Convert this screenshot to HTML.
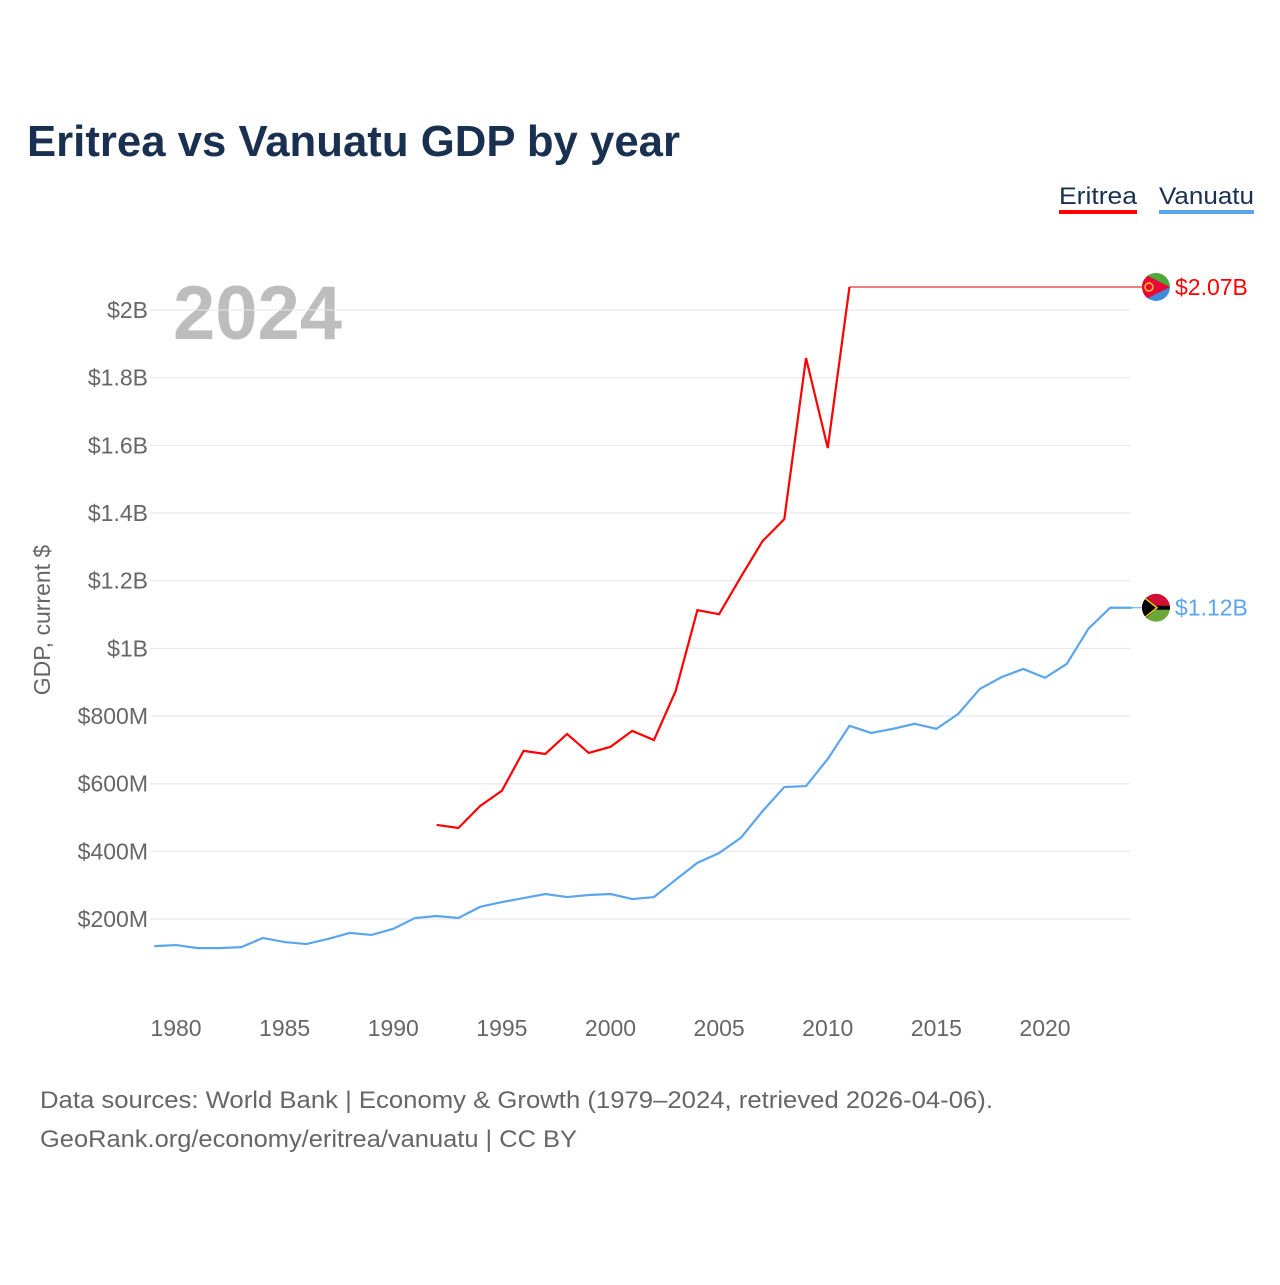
<!DOCTYPE html>
<html><head><meta charset="utf-8"><style>
body{margin:0;background:#fff;font-family:"Liberation Sans",sans-serif}
svg text{font-family:"Liberation Sans",sans-serif}
</style></head><body>
<svg id="chart" width="1280" height="1280">
<text x="27" y="156" font-size="44" font-weight="bold" fill="#1a3050" textLength="653" lengthAdjust="spacingAndGlyphs">Eritrea vs Vanuatu GDP by year</text>
<g>
<text x="1059" y="204" font-size="24" fill="#1a3050" textLength="78" lengthAdjust="spacingAndGlyphs">Eritrea</text>
<rect x="1059" y="210" width="78" height="4" fill="#ff0000"/>
<text x="1159" y="204" font-size="24" fill="#1a3050" textLength="95" lengthAdjust="spacingAndGlyphs">Vanuatu</text>
<rect x="1159" y="210" width="95" height="4" fill="#5aa5ec"/>
</g>
<text x="173" y="339" font-size="76" font-weight="bold" fill="#bdbdbd">2024</text>
<text transform="translate(50,620) rotate(-90)" text-anchor="middle" font-size="23" fill="#666">GDP, current $</text>
<g id="grid"></g><g id="yt"></g><g id="xt"></g><g id="lines"></g>
<text x="40" y="1108" font-size="24" fill="#666" textLength="953" lengthAdjust="spacingAndGlyphs">Data sources: World Bank | Economy &amp; Growth (1979–2024, retrieved 2026-04-06).</text>
<text x="40" y="1147" font-size="24" fill="#666" textLength="537" lengthAdjust="spacingAndGlyphs">GeoRank.org/economy/eritrea/vanuatu | CC BY</text>
</svg>
<script>
const yTicks=[200,400,600,800,1000,1200,1400,1600,1800,2000];
const yLabels=["$200M","$400M","$600M","$800M","$1B","$1.2B","$1.4B","$1.6B","$1.8B","$2B"];
const xTicks=[1980,1985,1990,1995,2000,2005,2010,2015,2020];
const vanYears=[1979,1980,1981,1982,1983,1984,1985,1986,1987,1988,1989,1990,1991,1992,1993,1994,1995,1996,1997,1998,1999,2000,2001,2002,2003,2004,2005,2006,2007,2008,2009,2010,2011,2012,2013,2014,2015,2016,2017,2018,2019,2020,2021,2022,2023,2024];
const vanVals=[120,123,114,114,117,144,132,126,141,159,153,171,203,209,203,236,250,262,274,265,271,274,259,265,316,366,395,440,519,590,593,673,771,750,762,777,762,806,880,915,939,913,954,1058,1120,1120];
const eriYears=[1992,1993,1994,1995,1996,1997,1998,1999,2000,2001,2002,2003,2004,2005,2006,2007,2008,2009,2010,2011];
const eriVals=[478,469,534,579,697,688,747,691,709,756,729,874,1113,1101,1211,1317,1382,1858,1592,2068];
const NS="http://www.w3.org/2000/svg";
const X=y=>176+(y-1980)*21.725, Y=v=>986.7-v*67.67/200;
function mk(t,a,p){const e=document.createElementNS(NS,t);for(const k in a)e.setAttribute(k,a[k]);document.getElementById(p).appendChild(e);return e;}
yTicks.forEach((v,i)=>{
 const l=mk('line',{x1:150,x2:1130,y1:Y(v),y2:Y(v),stroke:'#e6e6e6','stroke-width':1},'grid');
 
 
 const t=mk('text',{x:148,y:Y(v)+8,'text-anchor':'end','font-size':23,fill:'#666'},'yt');t.textContent=yLabels[i];
 
 
});
xTicks.forEach(y=>{
 const t=mk('text',{x:X(y),y:1036,'text-anchor':'middle','font-size':23,fill:'#666'},'xt');t.textContent=y;
 
 
});
const pv=mk('polyline',{points:vanYears.map((y,i)=>X(y)+','+Y(vanVals[i])).join(' '),fill:'none',stroke:'#5aa5ec','stroke-width':2.2},'lines');


const pe=mk('polyline',{points:eriYears.map((y,i)=>X(y)+','+Y(eriVals[i])).join(' '),fill:'none',stroke:'#ff0000','stroke-width':2.2},'lines');


const eLast=eriVals[eriVals.length-1], vLast=vanVals[vanVals.length-1];
const ex=mk('line',{x1:X(eriYears[eriYears.length-1]),x2:1145,y1:Y(eLast),y2:Y(eLast),stroke:'#d40000','stroke-width':1},'lines');


const fe=mk('g',{},'lines');
const ey=Y(eLast);
fe.innerHTML=`<clipPath id="ce"><circle cx="1156" cy="${ey}" r="14"/></clipPath><g clip-path="url(#ce)"><rect x="1142" y="${ey-14}" width="28" height="14" fill="#4caa3a"/><rect x="1142" y="${ey}" width="28" height="14" fill="#4189dd"/><polygon points="1142,${ey-14} 1170,${ey} 1142,${ey+14}" fill="#ea0437"/><circle cx="1149" cy="${ey}" r="4" fill="none" stroke="#ffc726" stroke-width="1.5"/></g>`;
const vy=Y(vLast);
const fv=mk('g',{},'lines');
fv.innerHTML=`<line x1="${X(2024)}" x2="1142" y1="${vy}" y2="${vy}" stroke="#5aa5ec" stroke-width="1"/><clipPath id="cv"><circle cx="1156" cy="${vy}" r="14"/></clipPath><g clip-path="url(#cv)"><rect x="1142" y="${vy-14}" width="28" height="14" fill="#d21034"/><rect x="1142" y="${vy}" width="28" height="14" fill="#6aa83a"/><rect x="1142" y="${vy-2}" width="28" height="4" fill="#000"/><polygon points="1142,${vy-14} 1158,${vy} 1142,${vy+14}" fill="#000"/><polyline points="1142,${vy-12} 1157,${vy} 1142,${vy+12}" fill="none" stroke="#fdce12" stroke-width="1.5"/></g>`;
const le=mk('text',{x:1175,y:ey+8,'font-size':23,fill:'#ff0000'},'lines');le.textContent='$2.07B';


const lv=mk('text',{x:1175,y:vy+8,'font-size':23,fill:'#5aa5ec'},'lines');lv.textContent='$1.12B';


</script>
</body></html>
